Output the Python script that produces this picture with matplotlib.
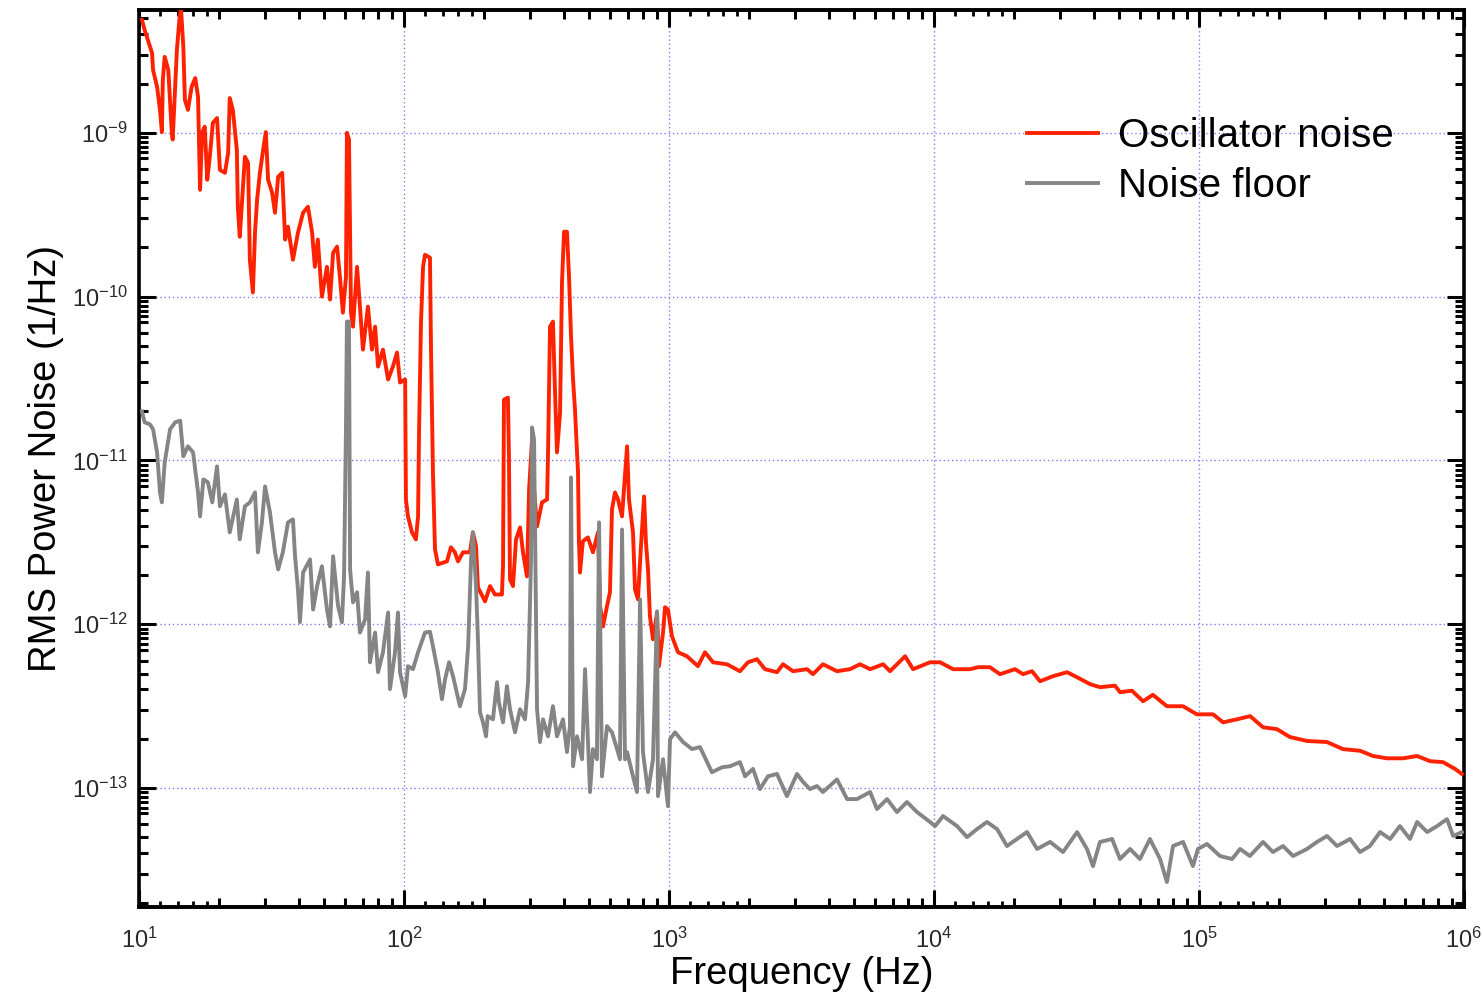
import matplotlib
matplotlib.use("Agg")
import matplotlib.pyplot as plt
from matplotlib.ticker import FixedLocator, NullFormatter, NullLocator, LogFormatterSciNotation

plt.rcParams['font.family'] = ['Liberation Sans', 'DejaVu Sans']
plt.rcParams['mathtext.fontset'] = 'custom'
plt.rcParams['mathtext.rm'] = 'Liberation Sans'
plt.rcParams['axes.unicode_minus'] = True

# ---- Oscillator noise spectrum (Hz, 1/Hz) ----
osc_freq = [
    10.26, 10.5, 10.8, 11.2, 11.3, 11.7, 12.0, 12.2, 12.3, 12.5, 12.9, 13.3, 13.4, 13.9, 14.2, 14.4,
    14.7, 14.9, 15.3, 15.8, 16.3, 16.7, 17.0, 17.3, 17.7, 18.1, 18.5, 19.0, 19.7, 20.2, 21.1, 21.7,
    22.0, 22.6, 23.4, 23.6, 24.0, 25.1, 25.8, 26.2, 26.9, 27.4, 27.9, 28.6, 29.4, 30.1, 30.7, 31.8,
    32.6, 33.5, 34.7, 35.6, 36.5, 38.1, 39.8, 41.6, 43.4, 45.0, 46.1, 47.3, 49.0, 51.2, 52.6, 54.0,
    55.9, 57.3, 58.8, 60.4, 60.9, 62.0, 63.1, 64.2, 66.5, 68.2, 70.0, 73.1, 75.7, 77.8, 79.8, 83.3,
    87.1, 90.8, 94.1, 96.6, 101.0, 101.7, 103.5, 107.2, 110.9, 113.0, 114.0, 115.9, 118.0, 120.0,
    125.3, 126.5, 128.6, 130.9, 134.3, 145.2, 150.3, 155.6, 159.9, 167.0, 177.4, 182.0, 187.0, 190.1,
    202.2, 211.2, 220.4, 234.2, 236.4, 238.4, 246.7, 248.9, 251.2, 257.8, 264.7, 274.1, 281.2, 291.1,
    296.5, 304.2, 309.6, 317.7, 331.8, 346.7, 349.5, 355.6, 364.8, 371.5, 377.8, 388.1, 394.6, 401.8,
    412.1, 419.6, 426.9, 434.4, 441.7, 453.6, 457.1, 461.4, 473.1, 494.1, 516.4, 539.5, 549.5, 563.6,
    583.5, 598.7, 609.3, 625.4, 642.2, 664.9, 694.7, 706.3, 731.4, 744.3, 763.7, 783.8, 805.4, 818.5,
    833.5, 847.2, 870.1, 901.5, 916.2, 949.4, 966.1, 991.0, 1026, 1081, 1169, 1286, 1367, 1466, 1655,
    1853, 1986, 2148, 2302, 2556, 2692, 2938, 3318, 3494, 3811, 4304, 4819, 5260, 5741, 6427, 6826,
    7780, 8337, 9661, 10540, 11800, 13680, 14660, 16260, 17740, 20220, 21670, 23440, 25120, 28120,
    31770, 34670, 38810, 42300, 48190, 50340, 55850, 61500, 66990, 75690, 87100, 98200, 113000,
    123300, 139100, 155900, 174500, 196900, 220300, 255600, 304100, 349300, 405200, 453600, 512100,
    588500, 665300, 744800, 833900, 925000, 982000,
]
osc_psd = [
    4.89e-9, 4.25e-9, 3.69e-9, 3.07e-9, 2.42e-9, 1.91e-9, 1.38e-9, 1.01e-9, 2.10e-9, 2.91e-9, 2.42e-9,
    1.0e-9, 9.1e-10, 3.21e-9, 4.89e-9, 5.8e-9, 3.34e-9, 1.59e-9, 1.38e-9, 1.91e-9, 2.16e-9, 1.66e-9,
    4.49e-10, 1.0e-9, 1.09e-9, 5.17e-10, 7.14e-10, 1.15e-9, 1.23e-9, 5.94e-10, 5.70e-10, 7.55e-10,
    1.63e-9, 1.38e-9, 7.87e-10, 3.54e-10, 2.32e-10, 7.14e-10, 6.56e-10, 1.68e-10, 1.06e-10, 2.46e-10,
    3.90e-10, 5.70e-10, 7.87e-10, 1.01e-9, 5.17e-10, 4.31e-10, 3.25e-10, 5.39e-10, 5.70e-10, 2.23e-10,
    2.67e-10, 1.68e-10, 2.46e-10, 3.25e-10, 3.54e-10, 2.46e-10, 1.52e-10, 2.23e-10, 1.0e-10, 1.52e-10,
    9.6e-11, 1.85e-10, 2.02e-10, 1.32e-10, 7.99e-11, 1.32e-10, 1.0e-9, 9.1e-10, 7.99e-11, 6.56e-11,
    1.52e-10, 8.69e-11, 4.75e-11, 8.69e-11, 4.75e-11, 6.56e-11, 3.74e-11, 4.75e-11, 3.12e-11, 3.74e-11,
    4.56e-11, 2.99e-11, 3.12e-11, 5.78e-12, 4.56e-12, 3.64e-12, 3.30e-12, 4.56e-12, 1.55e-11, 6.94e-11,
    1.52e-10, 1.80e-10, 1.73e-10, 4.56e-11, 8.45e-12, 2.87e-12, 2.32e-12, 2.42e-12, 2.95e-12, 2.75e-12,
    2.42e-12, 2.75e-12, 2.75e-12, 3.64e-12, 2.99e-12, 1.68e-12, 1.38e-12, 1.71e-12, 1.52e-12, 1.52e-12,
    2.26e-12, 2.35e-11, 2.42e-11, 1.06e-11, 1.88e-12, 1.71e-12, 3.30e-12, 3.90e-12, 2.75e-12, 1.96e-12,
    6.65e-12, 1.34e-11, 6.65e-12, 3.96e-12, 5.55e-12, 5.78e-12, 1.09e-11, 6.56e-11, 7.04e-11, 2.60e-11,
    1.12e-11, 1.96e-11, 1.22e-10, 2.49e-10, 2.49e-10, 1.31e-10, 5.70e-11, 3.12e-11, 2.05e-11, 8.45e-12,
    3.30e-12, 2.07e-12, 3.21e-12, 3.39e-12, 2.75e-12, 3.64e-12, 1.29e-12, 9.7e-13, 1.29e-12, 1.57e-12,
    5.02e-12, 6.38e-12, 5.78e-12, 4.56e-12, 1.22e-11, 5.78e-12, 3.64e-12, 1.63e-12, 1.42e-12, 2.99e-12,
    6.03e-12, 3.16e-12, 2.16e-12, 1.12e-12, 8.1e-13, 1.18e-12, 5.55e-13, 8.9e-13, 1.27e-12, 1.23e-12,
    8.45e-13, 6.75e-13, 6.38e-13, 5.55e-13, 6.75e-13, 5.86e-13, 5.70e-13, 5.17e-13, 5.86e-13, 6.12e-13,
    5.32e-13, 5.10e-13, 5.70e-13, 5.17e-13, 5.32e-13, 4.96e-13, 5.70e-13, 5.17e-13, 5.32e-13, 5.70e-13,
    5.32e-13, 5.70e-13, 5.17e-13, 6.38e-13, 5.32e-13, 5.86e-13, 5.86e-13, 5.32e-13, 5.32e-13, 5.47e-13,
    5.47e-13, 4.96e-13, 5.32e-13, 4.96e-13, 5.17e-13, 4.49e-13, 4.82e-13, 5.10e-13, 4.75e-13, 4.31e-13,
    4.13e-13, 4.22e-13, 3.85e-13, 3.93e-13, 3.39e-13, 3.71e-13, 3.16e-13, 3.16e-13, 2.82e-13, 2.82e-13,
    2.52e-13, 2.63e-13, 2.75e-13, 2.35e-13, 2.29e-13, 2.05e-13, 1.94e-13, 1.91e-13, 1.73e-13, 1.69e-13,
    1.57e-13, 1.52e-13, 1.52e-13, 1.57e-13, 1.46e-13, 1.44e-13, 1.31e-13, 1.22e-13,
]

# ---- Measurement noise floor (Hz, 1/Hz) ----
floor_freq = [
    10.26, 10.5, 11.0, 11.3, 11.7, 12.0, 12.2, 12.5, 13.1, 13.7, 14.3, 14.7, 15.3, 16.0, 16.7, 17.0,
    17.5, 18.2, 18.9, 19.7, 20.2, 21.1, 22.0, 23.4, 24.0, 25.1, 26.2, 27.4, 28.1, 29.1, 29.9, 31.2,
    32.6, 33.5, 34.9, 36.5, 38.1, 38.8, 39.8, 40.5, 41.6, 44.2, 45.4, 47.0, 49.0, 51.2, 52.6, 54.0,
    56.4, 58.3, 59.4, 60.4, 60.9, 62.0, 62.6, 64.2, 66.5, 68.2, 71.3, 73.1, 74.4, 77.8, 79.8, 83.3,
    87.1, 88.5, 92.5, 94.9, 96.6, 101.0, 103.5, 108.1, 113.0, 120.0, 125.3, 128.6, 134.3, 139.1,
    142.9, 147.9, 153.1, 162.6, 169.9, 174.6, 179.1, 182.0, 187.0, 190.1, 193.6, 198.7, 203.9, 206.9,
    216.6, 224.4, 228.1, 236.4, 244.6, 251.2, 262.4, 274.1, 286.2, 293.9, 301.6, 304.2, 309.6, 312.1,
    317.7, 326.1, 334.7, 349.5, 364.8, 377.8, 398.1, 412.1, 422.9, 426.9, 434.4, 449.7, 469.9, 482.2,
    494.1, 503.5, 516.4, 534.6, 544.5, 558.5, 583.5, 609.3, 636.8, 653.1, 664.9, 682.3, 694.7, 731.4,
    757.0, 777.8, 797.4, 833.5, 870.1, 901.5, 908.5, 949.4, 991.0, 1009, 1054, 1130, 1222, 1309,
    1452, 1585, 1698, 1853, 1936, 2075, 2204, 2363, 2556, 2786, 3041, 3206, 3404, 3615, 3811, 4304,
    4699, 5117, 5741, 6095, 6650, 7248, 7907, 8630, 9661, 10090, 10820, 12220, 13330, 14530, 15850,
    17300, 18850, 20560, 22440, 24490, 27420, 30690, 34670, 37780, 39810, 42300, 46990, 50340, 54950,
    59840, 65310, 71290, 75690, 79800, 87100, 94860, 99080, 107200, 120000, 133300, 142900, 155600,
    174500, 190100, 207500, 226500, 255600, 278600, 304100, 331900, 371500, 405200, 441700, 482200,
    526000, 572800, 625400, 665300, 726100, 791000, 863000, 909900, 982000,
]
floor_psd = [
    1.99e-11, 1.71e-11, 1.66e-11, 1.55e-11, 1.12e-11, 6.38e-12, 5.55e-12, 9.7e-12, 1.55e-11, 1.71e-11,
    1.75e-11, 1.06e-11, 1.22e-11, 1.12e-11, 6.38e-12, 4.56e-12, 7.66e-12, 7.35e-12, 5.55e-12, 9.2e-12,
    5.25e-12, 6.21e-12, 3.64e-12, 5.78e-12, 3.30e-12, 5.25e-12, 5.55e-12, 6.38e-12, 2.75e-12, 4.19e-12,
    6.94e-12, 4.82e-12, 2.75e-12, 2.16e-12, 2.75e-12, 4.19e-12, 4.37e-12, 2.60e-12, 1.63e-12, 1.03e-12,
    2.07e-12, 2.49e-12, 1.23e-12, 1.71e-12, 2.26e-12, 1.23e-12, 9.7e-13, 2.60e-12, 1.29e-12, 1.03e-12,
    1.96e-12, 1.61e-11, 7.04e-11, 7.04e-11, 2.16e-12, 1.36e-12, 1.57e-12, 8.9e-13, 1.07e-12, 2.07e-12,
    5.86e-13, 8.9e-13, 5.10e-13, 6.75e-13, 1.18e-12, 4.02e-13, 6.75e-13, 1.18e-12, 5.10e-13, 3.64e-13,
    5.55e-13, 5.32e-13, 6.75e-13, 8.9e-13, 9.0e-13, 7.35e-13, 5.10e-13, 3.49e-13, 4.62e-13, 5.86e-13,
    4.82e-13, 3.16e-13, 4.02e-13, 7.35e-13, 2.49e-12, 3.64e-12, 1.71e-12, 8.1e-13, 2.90e-13, 2.52e-13,
    2.07e-13, 2.75e-13, 2.63e-13, 4.43e-13, 3.34e-13, 2.52e-13, 4.19e-13, 3.03e-13, 2.19e-13, 3.03e-13,
    2.63e-13, 4.43e-13, 2.49e-12, 1.59e-11, 1.34e-11, 3.96e-12, 3.03e-13, 1.91e-13, 2.63e-13, 2.07e-13,
    3.16e-13, 2.07e-13, 2.63e-13, 1.66e-13, 2.39e-13, 7.87e-12, 1.36e-13, 2.07e-13, 1.50e-13, 5.32e-13,
    1.99e-13, 9.46e-14, 1.73e-13, 1.50e-13, 4.19e-12, 1.18e-13, 2.39e-13, 2.19e-13, 1.73e-13, 1.50e-13,
    3.79e-12, 1.50e-13, 1.66e-13, 1.18e-13, 9.46e-14, 1.42e-12, 1.66e-13, 9.46e-14, 1.50e-13, 1.20e-12,
    8.93e-14, 1.50e-13, 7.76e-14, 1.99e-13, 2.19e-13, 1.91e-13, 1.73e-13, 1.78e-13, 1.25e-13, 1.34e-13,
    1.36e-13, 1.44e-13, 1.18e-13, 1.31e-13, 9.86e-14, 1.18e-13, 1.22e-13, 8.93e-14, 1.22e-13, 1.09e-13,
    9.86e-14, 1.03e-13, 9.46e-14, 1.13e-13, 8.57e-14, 8.57e-14, 9.46e-14, 7.45e-14, 8.57e-14, 7.14e-14,
    8.22e-14, 7.14e-14, 6.21e-14, 5.86e-14, 6.75e-14, 5.86e-14, 5.02e-14, 5.62e-14, 6.21e-14, 5.62e-14,
    4.43e-14, 4.89e-14, 5.39e-14, 4.25e-14, 4.69e-14, 4.07e-14, 5.39e-14, 4.25e-14, 3.34e-14, 4.69e-14,
    4.89e-14, 3.69e-14, 4.25e-14, 3.69e-14, 4.89e-14, 3.69e-14, 2.67e-14, 4.43e-14, 4.69e-14, 3.34e-14,
    4.25e-14, 4.56e-14, 3.85e-14, 3.69e-14, 4.25e-14, 3.85e-14, 4.69e-14, 4.07e-14, 4.43e-14, 3.85e-14,
    4.25e-14, 4.69e-14, 5.10e-14, 4.43e-14, 4.89e-14, 4.07e-14, 4.43e-14, 5.39e-14, 4.89e-14, 5.86e-14,
    4.89e-14, 6.21e-14, 5.39e-14, 5.86e-14, 6.47e-14, 5.10e-14, 5.39e-14,
]

series_labels = ["Oscillator noise", "Noise floor"]
series_colors = ["#ff2200", "#858585"]

x_limits = (10, 1e6)
y_limits = (1.88e-14, 5.62e-9)
x_major = [1e1, 1e2, 1e3, 1e4, 1e5, 1e6]
y_major = [1e-13, 1e-12, 1e-11, 1e-10, 1e-9]

fig = plt.figure(figsize=(14.83, 9.98), dpi=100)
ax = fig.add_axes([139 / 1483, 1 - 907 / 998, 1325 / 1483, 897 / 998])

ax.plot(osc_freq, osc_psd, color=series_colors[0], lw=2.8, label=series_labels[0], zorder=3)
ax.plot(floor_freq, floor_psd, color=series_colors[1], lw=2.8, label=series_labels[1], zorder=4)

ax.set_xscale('log')
ax.set_yscale('log')
ax.set_xlim(*x_limits)
ax.set_ylim(*y_limits)

# major ticks at decades, minor ticks inside each decade
decades_x = [1e1, 1e2, 1e3, 1e4, 1e5]
ax.xaxis.set_major_locator(FixedLocator(x_major))
ax.xaxis.set_major_formatter(LogFormatterSciNotation())
ax.xaxis.set_minor_locator(FixedLocator([d * m for d in decades_x for m in range(2, 10)]))
ax.xaxis.set_minor_formatter(NullFormatter())

decades_y = [1e-14, 1e-13, 1e-12, 1e-11, 1e-10, 1e-9]
y_minor_steps = [2, 3, 4, 5, 6, 7, 7.6, 8.2, 8.8, 9.4]
ax.yaxis.set_major_locator(FixedLocator(y_major))
ax.yaxis.set_major_formatter(LogFormatterSciNotation())
ax.yaxis.set_minor_locator(FixedLocator([d * m for d in decades_y for m in y_minor_steps]))
ax.yaxis.set_minor_formatter(NullFormatter())

ax.tick_params(which='both', direction='in', top=True, right=True, width=2.2, color='black')
ax.tick_params(which='major', length=12, labelsize=17, labelcolor='#2a2a2a')
ax.tick_params(axis='x', which='major', pad=15)
ax.tick_params(axis='y', which='major', pad=8)
ax.tick_params(which='minor', length=6.5)

# short sub-ticks at 1.2, 1.4, 1.6, 1.8 of each decade along both horizontal edges
short_ticks = [d * m for d in decades_x for m in (1.2, 1.4, 1.6, 1.8)]
for side in ('bottom', 'top'):
    sec = ax.secondary_xaxis(side)
    sec.set_xticks(short_ticks)
    sec.xaxis.set_major_formatter(NullFormatter())
    sec.xaxis.set_minor_locator(NullLocator())
    sec.tick_params(which='both', direction='in', length=4, width=2.0, color='black')
    for sp in sec.spines.values():
        sp.set_linewidth(2.6)

for sp in ax.spines.values():
    sp.set_linewidth(2.6)
    sp.set_color('black')

ax.grid(True, which='major', color='#7d7dff', linestyle=(0, (1, 2)), linewidth=1.0)
ax.set_axisbelow(True)

ax.set_xlabel("Frequency (Hz)", fontsize=27.5, labelpad=2)
ax.set_ylabel("RMS Power Noise (1/Hz)", fontsize=27.5, labelpad=6)

ax.legend(loc='upper left', bbox_to_anchor=(0.670, 0.881), frameon=False, fontsize=29,
          handlelength=1.78, handletextpad=0.49, labelspacing=0.3, borderpad=0,
          borderaxespad=0)

fig.savefig("out.png", dpi=100)
